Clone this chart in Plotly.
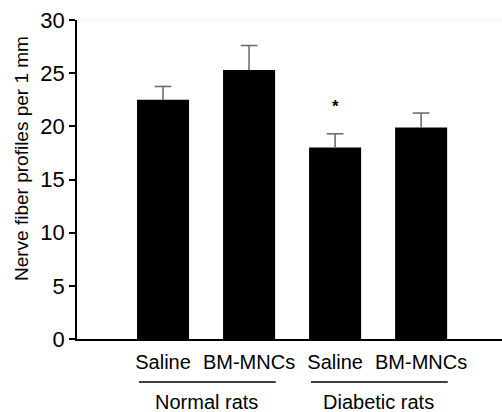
import plotly.graph_objects as go

categories = ["Saline", "BM-MNCs", "Saline", "BM-MNCs"]
values = [22.5, 25.3, 18.0, 19.9]
errors = [1.25, 2.3, 1.3, 1.35]
groups = ["Normal rats", "Diabetic rats"]
group_start = [0, 2]
y_ticks = [0, 5, 10, 15, 20, 25, 30]
y_title = "Nerve fiber profiles per 1 mm"
star_index = 2
star_value = 21.9

x = list(range(len(categories)))
FONT = "Liberation Sans, Arial, sans-serif"
ERR_COLOR = "#6e6e6e"

fig = go.Figure()
fig.add_trace(go.Bar(
    x=x, y=values, width=0.605,
    marker=dict(color="black", line=dict(width=0)),
    showlegend=False, hoverinfo="skip",
))
# upper error bars: stem only (no cap at bar top)
fig.add_trace(go.Scatter(
    x=x, y=values, mode="markers", marker=dict(size=1, color="rgba(0,0,0,0)"),
    error_y=dict(type="data", array=errors, arrayminus=[0] * len(errors),
                 symmetric=False, color=ERR_COLOR, thickness=1.6, width=0),
    showlegend=False, hoverinfo="skip",
))
# caps at the top of the error bars
fig.add_trace(go.Scatter(
    x=x, y=[v + e for v, e in zip(values, errors)], mode="markers",
    marker=dict(symbol="line-ew", size=12, line=dict(color=ERR_COLOR, width=1.6)),
    showlegend=False, hoverinfo="skip",
))

shapes = [dict(type="line", xref="paper", yref="y", x0=0, x1=1, y0=30, y1=30,
               line=dict(color="#ececec", width=1), layer="below")]
annotations = []
for g, s in zip(groups, group_start):
    shapes.append(dict(type="line", xref="x", yref="paper",
                       x0=s - 0.28, x1=s + 1.31, y0=-0.135, y1=-0.135,
                       line=dict(color="black", width=1.5)))
    annotations.append(dict(x=s + 0.5, y=-0.197, xref="x", yref="paper", text=g,
                            showarrow=False, yanchor="middle",
                            font=dict(family=FONT, size=20, color="black")))
annotations.append(dict(x=star_index, y=star_value, xref="x", yref="y", text="<b>*</b>",
                        showarrow=False, yanchor="middle",
                        font=dict(family=FONT, size=17, color="black")))
annotations.append(dict(x=-0.132, y=0.567, xref="paper", yref="paper", text=y_title,
                        textangle=-90, showarrow=False, xanchor="center", yanchor="middle",
                        font=dict(family=FONT, size=19, color="black")))

fig.update_layout(
    width=502, height=412,
    margin=dict(l=77, r=0, t=20, b=73),
    plot_bgcolor="white", paper_bgcolor="white",
    font=dict(family=FONT, color="black"),
    shapes=shapes, annotations=annotations,
    xaxis=dict(range=[-1, 3.94], tickmode="array", tickvals=x, ticktext=categories,
               showline=True, linecolor="black", linewidth=1.5,
               ticks="outside", ticklen=4, tickcolor="rgba(0,0,0,0)",
               tickfont=dict(family=FONT, size=20, color="black"),
               showgrid=False, zeroline=False, fixedrange=True),
    yaxis=dict(range=[0, 30], tickmode="array", tickvals=y_ticks,
               showline=True, linecolor="black", linewidth=1.5,
               ticks="outside", ticklen=6, tickcolor="black", tickwidth=1.5,
               tickfont=dict(family=FONT, size=22, color="black"),
               showgrid=False, zeroline=False, fixedrange=True),
)

fig.write_html("out.html")
